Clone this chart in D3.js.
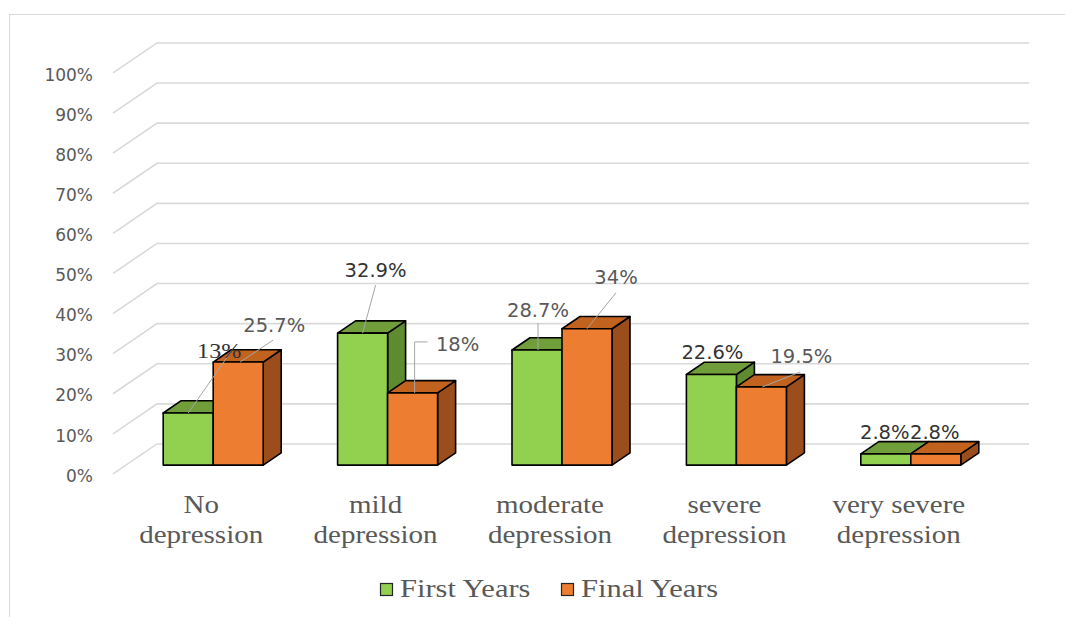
<!DOCTYPE html>
<html>
<head>
<meta charset="utf-8">
<script src="https://cdn.jsdelivr.net/npm/d3@7/dist/d3.min.js"></script>
<style>
  html, body { margin: 0; padding: 0; background: #ffffff; }
  svg { display: block; }
</style>
</head>
<body>
<svg id="chart" width="1065" height="617"></svg>
<script>
// ---- data ----
const categories = ["No depression", "mild depression", "moderate depression", "severe depression", "very severe depression"];
const categoryLines = [["No", "depression"], ["mild", "depression"], ["moderate", "depression"], ["severe", "depression"], ["very severe", "depression"]];
const seriesNames = ["First Years", "Final Years"];
const firstYears = [13, 32.9, 28.7, 22.6, 2.8];
const finalYears = [25.7, 18, 34, 19.5, 2.8];
const valueLabels = [["13%", "32.9%", "28.7%", "22.6%", "2.8%"], ["25.7%", "18%", "34%", "19.5%", "2.8%"]];
const yTicks = [0, 10, 20, 30, 40, 50, 60, 70, 80, 90, 100];

// ---- styling / layout ----
const seriesColors = [
  { front: "#92D050", top: "#6F9E3B", side: "#5E8A30" },
  { front: "#ED7D31", top: "#C2621F", side: "#9B4E1C" }
];
// hand-placed data label offsets (relative to the front-top-centre of each bar)
const labelLayout = [
  [
    { dx: 31, dy: -55, serif: true, dark: true, leader: [[0, 0], [44, -63]] },
    { dx: 13, dy: -56, dark: true, leader: [[0, 0], [13, -48]] },
    { dx: 1, dy: -33, leader: [[1, 0], [1, -27]] },
    { dx: 1, dy: -15, dark: true },
    { dx: -1, dy: -15, dark: true }
  ],
  [
    { dx: 36, dy: -30, leader: [[2, 0], [35, -22]] },
    { dx: 45, dy: -42, leader: [[2, 0], [2, -51], [15, -51]] },
    { dx: 29, dy: -45, leader: [[0, 0], [29, -36]] },
    { dx: 40, dy: -24, leader: [[1, 0], [39, -15]] },
    { dx: -1, dy: -15, dark: true }
  ]
];

const svg = d3.select("#chart");
const W = 1065, H = 617;

// outer frame
svg.append("rect")
  .attr("x", 9.5).attr("y", 14.5)
  .attr("width", W).attr("height", H)
  .attr("fill", "none").attr("stroke", "#D9D9D9").attr("stroke-width", 1);

// 3D projection: floor depth and bar depth (pixels along x, y follows the 30/44 slope)
const FLOOR_DEPTH = 44, SLOPE = 30 / 44;
const BAR_Z = 13;          // depth position of the bar front faces
const BAR_DEPTH = 18;

const y = d3.scaleLinear().domain([0, 100]).range([465.1, 64.1]);
const x0 = d3.scaleBand().domain(categories).range([126, 998])
  .paddingInner(0.4266).paddingOuter(0.2133);
const x1 = d3.scaleBand().domain(seriesNames).range([0, x0.bandwidth()]);

// front-plane value scale (for the axis labels)
const yFront = d3.scaleLinear().domain([0, 100])
  .range([y(0) + BAR_Z * SLOPE, y(100) + BAR_Z * SLOPE]);

// ---- walls / gridlines ----
const grid = svg.append("g");
const xLeft = x0.range()[0], xRight = x0.range()[1];
const backZ = FLOOR_DEPTH - BAR_Z;
yTicks.forEach(t => {
  const fy = y(t) + BAR_Z * SLOPE;
  const by = y(t) - backZ * SLOPE;
  grid.append("path")
    .attr("d", `M${xLeft - BAR_Z},${fy} L${xLeft + backZ},${by} L${xRight + backZ},${by}`)
    .attr("fill", "none")
    .attr("stroke", "#D9D9D9")
    .attr("stroke-width", 1.6);
});

// ---- y axis ----
const yAxis = d3.axisLeft(yFront)
  .tickValues(yTicks)
  .tickSize(0)
  .tickPadding(0)
  .tickFormat(d => d + "%");
const ax = svg.append("g").attr("transform", "translate(93,0)").call(yAxis);
ax.select(".domain").remove();
ax.selectAll("text")
  .attr("dy", "0.42em")
  .attr("fill", "#595959")
  .style("font-family", "'DejaVu Sans', sans-serif")
  .style("font-size", "17px");

// ---- bars ----
const bars = svg.append("g");
const bdy = BAR_DEPTH * SLOPE;
const seriesValues = [firstYears, finalYears];
categories.forEach((c, i) => {
  seriesNames.forEach((s, k) => {
    const v = seriesValues[k][i];
    const xl = x0(c) + x1(s);
    const w = x1.bandwidth();
    const top = y(v), bot = y(0);
    const col = seriesColors[k];
    const g = bars.append("g")
      .attr("stroke", "#000").attr("stroke-width", 1.6).attr("stroke-linejoin", "round");
    g.append("path")
      .attr("d", `M${xl + w},${top} L${xl + w + BAR_DEPTH},${top - bdy} L${xl + w + BAR_DEPTH},${bot - bdy} L${xl + w},${bot} Z`)
      .attr("fill", col.side);
    g.append("path")
      .attr("d", `M${xl},${top} L${xl + w},${top} L${xl + w + BAR_DEPTH},${top - bdy} L${xl + BAR_DEPTH},${top - bdy} Z`)
      .attr("fill", col.top);
    g.append("rect")
      .attr("x", xl).attr("y", top)
      .attr("width", w).attr("height", bot - top)
      .attr("fill", col.front);
  });
});

// ---- data labels ----
const labels = svg.append("g");
categories.forEach((c, i) => {
  seriesNames.forEach((s, k) => {
    const v = seriesValues[k][i];
    const cx = x0(c) + x1(s) + x1.bandwidth() / 2;
    const ty = y(v);
    const L = labelLayout[k][i];
    if (L.leader) {
      labels.append("path")
        .attr("d", d3.line()(L.leader.map(p => [cx + p[0], ty + p[1]])))
        .attr("fill", "none")
        .attr("stroke", "#A6A6A6")
        .attr("stroke-width", 1);
    }
    const t = labels.append("text")
      .attr("text-anchor", "middle")
      .attr("fill", L.dark ? "#333333" : "#595959")
      .text(valueLabels[k][i]);
    if (L.serif) {
      t.attr("transform", `translate(${cx + L.dx},${ty + L.dy}) scale(1.15,1)`)
        .style("font-family", "'Liberation Serif', 'Times New Roman', serif")
        .style("font-size", "21px");
    } else {
      t.attr("x", cx + L.dx).attr("y", ty + L.dy)
        .style("font-family", "'DejaVu Sans', sans-serif")
        .style("font-size", "19.5px");
    }
  });
});

// ---- category labels ----
const catG = svg.append("g");
categories.forEach((c, i) => {
  const cx = x0(c) + x0.bandwidth() / 2 - BAR_Z + 1;
  categoryLines[i].forEach((line, j) => {
    catG.append("text")
      .attr("transform", `translate(${cx},${513 + j * 30}) scale(1.16,1)`)
      .attr("text-anchor", "middle")
      .attr("fill", "#595959")
      .style("font-family", "'Liberation Serif', 'Times New Roman', serif")
      .style("font-size", "25px")
      .text(line);
  });
});

// ---- legend ----
const legendX = [380, 561];
const legend = svg.append("g");
seriesNames.forEach((s, k) => {
  legend.append("rect")
    .attr("x", legendX[k] + 0.5).attr("y", 583.5)
    .attr("width", 12).attr("height", 12)
    .attr("fill", seriesColors[k].front)
    .attr("stroke", "#262626").attr("stroke-width", 1.2);
  legend.append("text")
    .attr("transform", `translate(${legendX[k] + 20},597) scale(1.22,1)`)
    .attr("fill", "#595959")
    .style("font-family", "'Liberation Serif', 'Times New Roman', serif")
    .style("font-size", "25px")
    .text(s);
});
</script>
</body>
</html>
